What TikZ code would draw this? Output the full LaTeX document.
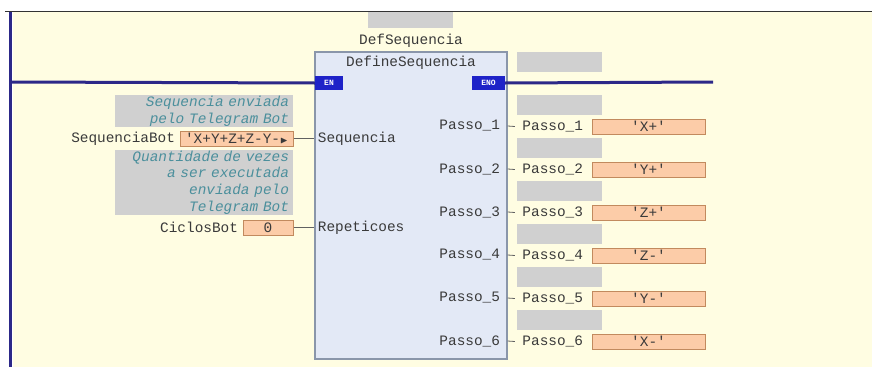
\documentclass[tikz,border=0pt]{standalone}
\usepackage{amssymb}
\usepackage{fontspec}
\setmonofont{Liberation Mono}
\usetikzlibrary{positioning}

\definecolor{bgyellow}{HTML}{FFFDE2}
\definecolor{railblue}{HTML}{2C2888}
\definecolor{enblue}{HTML}{1E22C8}
\definecolor{fbfill}{HTML}{E3E9F6}
\definecolor{fbline}{HTML}{8A96AA}
\definecolor{cmtgray}{HTML}{D0D0D0}
\definecolor{cmttext}{HTML}{4B8F9C}
\definecolor{varfill}{HTML}{FCCCA8}
\definecolor{varline}{HTML}{C28A5E}
\definecolor{pintext}{HTML}{3A3A3A}

\begin{document}
\begin{tikzpicture}[x=1pt,y=-1pt,
    font=\ttfamily\fontsize{14.4}{16.7}\selectfont,text=pintext,
    rail/.style={railblue,line width=3pt},
    wire/.style={pintext!80,line width=0.8pt},
    cmt/.style={fill=cmtgray,inner sep=0pt},
    note/.style={cmt,text=cmttext,font=\ttfamily\itshape\fontsize{14.4}{16.7}\selectfont,
        align=right,text width=170pt,inner xsep=4pt,inner ysep=1pt},
    var/.style={draw=varline,fill=varfill,line width=1pt,minimum height=15pt,inner sep=0pt},
    enpin/.style={fill=enblue,text=white,font=\ttfamily\bfseries\fontsize{8}{8}\selectfont,
        minimum height=14pt,inner sep=1pt}]
    \useasboundingbox (0,0) rectangle (872,367);
    \fill [bgyellow] (13,12) rectangle (872,367);
    \draw [black!80,line width=1pt] (5,11.5) -- (872,11.5);

    % function block
    \node (inst) [cmt,minimum width=85pt,minimum height=16pt] at (410.5,20) {};
    \node (instname) at (411,41) {DefSequencia};
    \node (FB) [draw=fbline,fill=fbfill,line width=1.2pt,minimum width=192pt,
        minimum height=307pt,inner sep=0pt] at (411,205.5) {};
    \node (FBname) at (411,63) {DefineSequencia};
    \node (EN) [enpin,minimum width=28pt] at (329,83) {EN};
    \node (ENO) [enpin,minimum width=33pt] at (488.5,83) {ENO};
    \node (enovar) [cmt,minimum width=85pt,minimum height=20pt] at (559.5,62) {};

    % power rail
    \coordinate (railtop) at (10,12);
    \coordinate (railbot) at (10,367);
    \coordinate (enL) at (10,82);
    \coordinate (enoR) at (713,82);
    \draw [rail] (railtop) -- (railbot);
    \draw [rail] (enL) -- (EN.west);
    \draw [rail] (ENO.east) -- (enoR);

    % inputs
    \node (note1) [note,minimum height=32pt] at (204,111) {Sequencia enviada\\pelo Telegram Bot};
    \node (seqv) [var,minimum width=113pt] at (236.5,138.5) {'X+Y+Z+Z-Y-${\scriptstyle\blacktriangleright}$};
    \node (seqn) [left=1pt of seqv] {SequenciaBot};
    \node (inseq) [anchor=west] at (FB.west |- seqv) {Sequencia};
    \draw [wire] (seqv) -- (inseq);

    \node (note2) [note,minimum height=65pt] at (204,182.5)
        {Quantidade de vezes\\a ser executada\\enviada pelo\\Telegram Bot};
    \node (cicv) [var,minimum width=50pt] at (268,227.5) {0};
    \node (cicn) [left=1pt of cicv] {CiclosBot};
    \node (inrep) [anchor=west] at (FB.west |- cicv) {Repeticoes};
    \draw [wire] (cicv) -- (inrep);

    % outputs
    \foreach \i/\v in {1/X+,2/Y+,3/Z+,4/Z-,5/Y-,6/X-}{
        \node (out\i) [anchor=east] at (503.5,83+43*\i) {Passo\_\i};
        \node (gray\i) [cmt,minimum width=85pt,minimum height=20pt] at (559.5,62+43*\i) {};
        \node (val\i) [var,minimum width=113pt] at (648.5,83.5+43*\i) {'\v'};
        \node (vn\i) [left=5pt of val\i] {Passo\_\i};
        \draw [wire] (FB.east |- out\i) -- ([xshift=-4pt]vn\i.west);
    }
\end{tikzpicture}
\end{document}
